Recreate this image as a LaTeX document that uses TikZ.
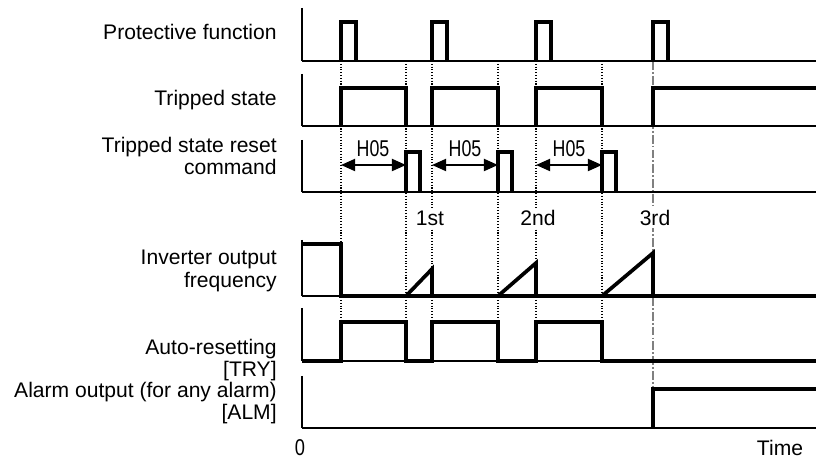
\documentclass[tikz,border=0pt]{standalone}
\usepackage{fontspec}
\setmainfont{Liberation Sans}
\usetikzlibrary{arrows.meta}

\begin{document}
\begin{tikzpicture}[x=0.02cm, y=-0.02cm,
        font=\fontsize{12}{14}\selectfont,
        signal/.style={line width=2.1pt, line join=miter},
        baseline/.style={line width=1.5pt},
        axisline/.style={line width=1.1pt},
        guide/.style={densely dotted, line width=0.6pt},
        alarmguide/.style={gray, line width=0.6pt, dash pattern=on 5pt off 1.2pt on 1pt off 1.2pt},
        hold/.style={{Triangle[length=8pt,width=6.8pt]}-{Triangle[length=8pt,width=6.8pt]}, line width=1.2pt},
        rowlabel/.style={anchor=base east, inner sep=0pt},
        narrow/.style={font=\fontsize{13}{15}\selectfont, inner sep=0pt}]

    \useasboundingbox (0,0) rectangle (816,459);

    % Dotted guide lines at the trip and reset instants
    \foreach \t in {341,406,432,498,536,602} {
        \draw[guide] (\t,61) -- (\t,322);
    }
    % Third trip: alarm
    \draw[alarmguide] (653,61) -- (653,389);

    % Retry count labels (they break the guide lines)
    \node[fill=white, inner sep=1.5pt] (first) at (430,218) {1st};
    \node[fill=white, inner sep=1.5pt] (second) at (538,218) {2nd};
    \node[fill=white, inner sep=1.5pt] (third) at (655,218) {3rd};

    % Axes of the six rows
    \foreach \top/\base in {8/61, 74/126, 140/192, 240/296, 308/361, 376/428} {
        \draw[axisline] (302,\top) -- (302,\base);
        \draw[baseline] (302,\base) -- (816,\base);
    }

    % Protective function
    \foreach \t in {341,432,536,653} {
        \draw[signal] (\t,61) -- (\t,22) -- (\t+15,22) -- (\t+15,61);
    }

    % Tripped state
    \foreach \a/\b in {341/406, 432/498, 536/602} {
        \draw[signal] (\a,126) -- (\a,88) -- (\b,88) -- (\b,126);
    }
    \draw[signal] (653,126) -- (653,88) -- (816,88);

    % Tripped state reset command
    \foreach \t in {406,498,602} {
        \draw[signal] (\t,192) -- (\t,152) -- (\t+14,152) -- (\t+14,192);
    }

    % Reset waiting time H05
    \coordinate (hold1a) at (341,165);
    \coordinate (hold1b) at (406,165);
    \coordinate (hold2a) at (432,165);
    \coordinate (hold2b) at (498,165);
    \coordinate (hold3a) at (536,165);
    \coordinate (hold3b) at (602,165);
    \draw[hold] (hold1a) -- (hold1b);
    \draw[hold] (hold2a) -- (hold2b);
    \draw[hold] (hold3a) -- (hold3b);
    \node[narrow] (wait1) at (373,149) {\scalebox{0.78}[1]{H05}};
    \node[narrow] (wait2) at (465,149) {\scalebox{0.78}[1]{H05}};
    \node[narrow] (wait3) at (569,149) {\scalebox{0.78}[1]{H05}};

    % Inverter output frequency
    \draw[signal] (302,244) -- (341,244) -- (341,296) -- (816,296);
    \draw[signal] (406,296) -- (432,269) -- (432,296);
    \draw[signal] (498,296) -- (536,263) -- (536,296);
    \draw[signal] (602,296) -- (653,253) -- (653,296);

    % Auto-resetting [TRY]
    \draw[signal] (302,361) -- (341,361) -- (341,322) -- (406,322) -- (406,361)
        -- (432,361) -- (432,322) -- (498,322) -- (498,361)
        -- (536,361) -- (536,322) -- (602,322) -- (602,361) -- (816,361);

    % Alarm output [ALM]
    \draw[signal] (653,428) -- (653,389) -- (816,389);

    % Row labels
    \node[rowlabel] (pf) at (277,40) {Protective function};
    \node[rowlabel] (ts) at (277,106) {Tripped state};
    \node[rowlabel] (rca) at (277,153) {Tripped state reset};
    \node[rowlabel] (rcb) at (277,175) {command};
    \node[rowlabel] (fqa) at (277,265) {Inverter output};
    \node[rowlabel] (fqb) at (277,288) {frequency};
    \node[rowlabel] (trya) at (277,355) {Auto-resetting};
    \node[rowlabel] (tryb) at (277,377) {[TRY]};
    \node[rowlabel] (alma) at (277,398) {Alarm output (for any alarm)};
    \node[rowlabel] (almb) at (277,420) {[ALM]};

    % Time axis
    \node[narrow] (zero) at (300,448) {\scalebox{0.8}[1]{0}};
    \node[inner sep=0pt] (time) at (780,448) {Time};
\end{tikzpicture}
\end{document}
